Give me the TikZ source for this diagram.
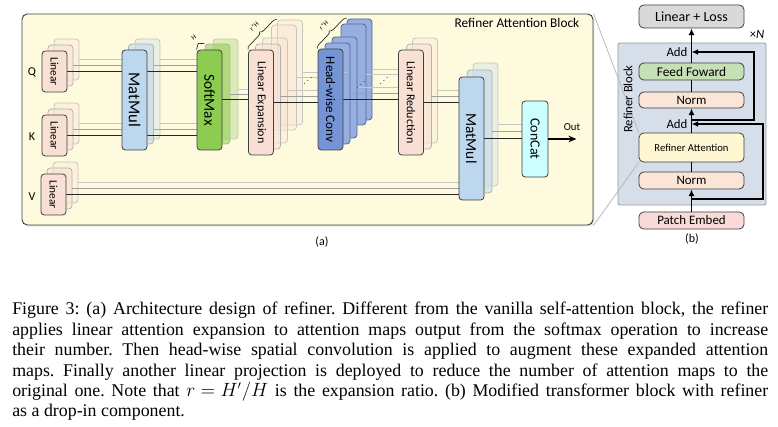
\documentclass[tikz,border=0pt]{standalone}
\usepackage{fontspec}
\setmainfont{Carlito}
\newfontfamily\capfont{Liberation Serif}
\usetikzlibrary{arrows.meta,decorations.pathreplacing,shadows}

\definecolor{bgA}{RGB}{254,250,222}
\definecolor{linpink}{RGB}{248,224,212}
\definecolor{mmblue}{RGB}{189,215,238}
\definecolor{smgreen}{RGB}{140,204,80}
\definecolor{hcblue}{RGB}{116,148,214}
\definecolor{cccyan}{RGB}{204,255,255}
\definecolor{bgB}{RGB}{214,222,234}
\definecolor{llgray}{RGB}{217,217,217}
\definecolor{ffgreen}{RGB}{197,224,180}
\definecolor{normpink}{RGB}{251,229,214}
\definecolor{rayellow}{RGB}{255,246,210}
\definecolor{pepink}{RGB}{249,218,216}

\pgfdeclarelayer{back}
\pgfdeclarelayer{mid}
\pgfsetlayers{back,mid,main}

\newcommand{\vtxt}[1]{\rotatebox{-90}{#1}}
\newcommand{\fsz}[1]{\fontsize{#1}{#1}\selectfont}

\tikzset{
  blk/.style={draw=black!75, line width=0.6pt, rounded corners=2.5pt, inner sep=0pt, minimum width=18.75pt},
  ghostnear/.style={draw=gray!60, fill opacity=0.55},
  ghostfar/.style={draw=gray!45, fill opacity=0.3},
  linbox/.style={blk, fill=linpink, minimum height=30.75pt, font=\fsz{8.5}},
  mmabox/.style={blk, fill=mmblue, minimum height=75pt, font=\fsz{12.5}},
  smbox/.style={blk, fill=smgreen, minimum height=75pt, font=\fsz{11.5}},
  lebox/.style={blk, fill=linpink, minimum height=78.75pt, font=\fsz{9}},
  hcbox/.style={blk, fill=hcblue, minimum height=75.75pt, font=\fsz{9.8}},
  hcback/.style={draw=hcblue!70!black, fill=hcblue!75},
  lrbox/.style={blk, fill=linpink, minimum height=78.75pt, font=\fsz{9}},
  mmbbox/.style={blk, fill=mmblue, minimum height=92.25pt, font=\fsz{11.5}},
  wire/.style={line width=0.75pt, black!85},
  wireb/.style={line width=0.6pt, gray!75},
  wirec/.style={line width=0.6pt, gray!45},
  brc/.style={decorate, decoration={brace, amplitude=3pt}, line width=0.4pt},
  dotsn/.style={rotate=45, font=\fsz{6}, inner sep=0pt},
  bbox/.style={draw=black!75, line width=0.6pt, rounded corners=3.5pt, inner sep=0pt, minimum width=78.75pt},
  arr/.style={line width=1pt, -{Latex[length=5pt,width=4.5pt]}},
  trunk/.style={line width=1pt}
}

\begin{document}
\begin{tikzpicture}[x=0.75pt,y=-0.75pt]
\useasboundingbox (0,0) rectangle (778,427);

% (a) refiner attention block
\begin{pgfonlayer}{back}
\node[draw=black!75, line width=0.7pt, fill=bgA, rounded corners=4pt, minimum width=428.25pt, minimum height=158.25pt, drop shadow={opacity=0.25, shadow xshift=1pt, shadow yshift=-1pt}] (blka) at (307.5,119.5) {};
\node[linbox, ghostfar] (lq3) at (66.5,59.5) {};
\node[linbox, ghostnear] (lq2) at (60.5,65.5) {};
\node[linbox, ghostfar] (lk3) at (66.5,123.5) {};
\node[linbox, ghostnear] (lk2) at (60.5,129.5) {};
\node[linbox, ghostfar] (lv3) at (65.5,182.5) {};
\node[linbox, ghostnear] (lv2) at (59.5,188.5) {};
\node[mmabox, ghostfar] (ma3) at (147.5,89) {};
\node[mmabox, ghostnear] (ma2) at (141,94) {};
\node[smbox, ghostfar] (sm3) at (225.5,89) {};
\node[smbox, ghostnear] (sm2) at (217.5,94) {};
\node[lebox, ghostfar] (le5) at (290,72.5) {};
\node[lebox, ghostfar] (le4) at (284,77.5) {};
\node[lebox, ghostfar] (le3) at (275,90.5) {};
\node[lebox, ghostnear] (le2) at (268,96.5) {};
\node[hcbox, hcback] (hc5) at (359.5,69.5) {};
\node[hcbox, hcback] (hc4) at (353.5,74.5) {};
\node[hcbox, hcback] (hc3) at (344.5,87.5) {};
\node[hcbox, hcback] (hc2) at (337.5,93.5) {};
\node[lrbox, ghostfar] (lr3) at (425,90.5) {};
\node[lrbox, ghostnear] (lr2) at (419,96.5) {};
\node[mmbbox, ghostfar] (mb3) at (485.5,124.5) {};
\node[mmbbox, ghostnear] (mb2) at (479.5,131.5) {};
\end{pgfonlayer}

\node[linbox] (lq1) at (54.5,71.5) {\vtxt{Linear}};
\node[linbox] (lk1) at (54.5,135.5) {\vtxt{Linear}};
\node[linbox] (lv1) at (53.5,194.5) {\vtxt{Linear}};
\node[mmabox] (ma1) at (134.5,100) {\vtxt{MatMul}};
\node[smbox] (sm1) at (209.5,100) {\vtxt{SoftMax}};
\node[lebox] (le1) at (261,102.5) {\vtxt{Linear Expansion}};
\node[hcbox] (hc1) at (330.5,99.5) {\vtxt{Head-wise Conv}};
\node[lrbox] (lr1) at (411,102.5) {\vtxt{Linear Reduction}};
\node[mmbbox] (mb1) at (471.5,138.5) {\vtxt{MatMul}};
\node[blk, fill=cccyan, minimum width=19.5pt, minimum height=57pt, font=\fsz{10.5}] (cc) at (535,139) {\vtxt{ConCat}};

\node[font=\fsz{9}] (tq) at (32,72) {Q};
\node[font=\fsz{9}] (tk) at (32,137) {K};
\node[font=\fsz{9}] (tv) at (32,197) {V};
\node[anchor=east, font=\fsz{10}] (rabl) at (584,23) {Refiner Attention Block};
\node[font=\fsz{8}] (outl) at (572,127) {Out};
\node[font=\fsz{9}] (capa) at (322,242) {(a)};

\begin{pgfonlayer}{mid}
\draw[wire] (lq1.east) -- (lq1.east -| ma1.west) (lk1.east) -- (lk1.east -| ma1.west);
\draw[wireb] (lq2.east) -- (lq2.east -| ma2.west) (lk2.east) -- (lk2.east -| ma2.west);
\draw[wirec] (lq3.east) -- (lq3.east -| ma3.west) (lk3.east) -- (lk3.east -| ma3.west);
\draw[wire] (ma1.east |- lq1) -- (sm1.west |- lq1) (ma1.east |- lk1) -- (sm1.west |- lk1);
\draw[wireb] (ma2.east |- lq2) -- (sm2.west |- lq2) (ma2.east |- lk2) -- (sm2.west |- lk2);
\draw[wirec] (ma3.east |- lq3) -- (sm3.west |- lq3) (ma3.east |- lk3) -- (sm3.west |- lk3);
\draw[wire] (sm1.east) -- (sm1.east -| le1.west);
\draw[wireb] (sm2.east) -- (sm2.east -| le2.west);
\draw[wirec] (sm3.east) -- (sm3.east -| le3.west);
\draw[wire] (le1.east) -- (le1.east -| hc1.west);
\draw[wireb] (le2.east) -- (le2.east -| hc2.west);
\draw[wirec] (le3.east) -- (le3.east -| hc3.west) (le4.east) -- (le4.east -| hc4.west) (le5.east) -- (le5.east -| hc5.west);
\draw[wire] (hc1.east) -- (hc1.east -| lr1.west);
\draw[wireb] (hc2.east) -- (hc2.east -| lr2.west);
\draw[wirec] (hc3.east) -- (hc3.east -| lr3.west) (hc4.east) -- (hc4.east -| lr2.west) (hc5.east) -- (hc5.east -| lr2.west);
\draw[wire] (lr1.east) -- (lr1.east -| mb1.west);
\draw[wireb] (lr2.east) -- (lr2.east -| mb2.west);
\draw[wirec] (lr3.east) -- (lr3.east -| mb3.west);
\draw[wire] (lv1.east) -- (lv1.east -| mb1.west);
\draw[wireb] (lv2.east) -- (lv2.east -| mb2.west);
\draw[wirec] (lv3.east) -- (lv3.east -| mb3.west);
\draw[wire] (mb1.east) -- (mb1.east -| cc.west);
\draw[wireb] (mb2.east) -- (mb2.east -| cc.west);
\draw[wirec] (mb3.east) -- (mb3.east -| cc.west);
\end{pgfonlayer}

\draw[line width=1.4pt, -{Stealth[length=6pt,width=5pt]}] (cc.east) -- ++(28,0) coordinate (outp);

\draw[brc] (sm1.north west) -- (sm2.north west) node[midway, sloped, above=3.5pt, font=\fsz{5}] (bh) {H};
\draw[brc] (le1.north west) -- (le5.north west) node[midway, sloped, above=3.5pt, font=\fsz{5}] (brh) {r*H};
\draw[brc] (hc1.north west) -- (hc5.north west) node[midway, sloped, above=3.5pt, font=\fsz{5}] (bhh) {r*H};

\node[dotsn] (dt1) at (308,81) {$\cdots$};
\node[dotsn] (dt2) at (361,85) {$\cdots$};
\node[dotsn] (dt3) at (384,81) {$\cdots$};

% (b) transformer block with refiner
\node[draw=gray!80, line width=0.6pt, fill=bgB, rounded corners=1.5pt, minimum width=111pt, minimum height=121.5pt] (rb) at (692,124) {};
\draw[gray!55, line width=0.6pt] (blka.north east) -- (639,133) coordinate (rat);
\draw[gray!55, line width=0.6pt] (blka.south east) -- (639,162) coordinate (rab);

\node[bbox, fill=llgray, minimum height=17.25pt, font=\fsz{10.5}] (ll) at (691.5,16.5) {Linear + Loss};
\node[bbox, fill=ffgreen, minimum height=12.75pt, font=\fsz{10}] (ff) at (691.5,71.5) {Feed Foward};
\node[bbox, fill=normpink, minimum height=12pt, font=\fsz{9.7}] (nup) at (691.5,100) {Norm};
\node[bbox, fill=rayellow, minimum height=21.75pt, font=\fsz{8}] (ra) at (691.5,147.5) {Refiner Attention};
\node[bbox, fill=normpink, minimum height=12.75pt, font=\fsz{9.7}] (nlo) at (691.5,180.5) {Norm};
\node[bbox, fill=pepink, minimum height=12.75pt, font=\fsz{9.7}] (pe) at (691.5,220.5) {Patch Embed};

\node[font=\fsz{9.6}] (addu) at (677,52) {Add};
\node[font=\fsz{9.6}] (addl) at (677,124) {Add};
\node[rotate=90, font=\fsz{9.5}] (rbl) at (628,99) {Refiner Block};
\node[font=\fsz{9.5}] (xn) at (757,34) {×\textit{N}};
\node[font=\fsz{9}] (capb) at (692,239) {(b)};

\draw[arr] (pe) -- (nlo);
\draw[trunk] (nlo) -- (ra);
\draw[arr] (ra) -- (nup);
\draw[trunk] (nup) -- (ff);
\draw[arr] (ff) -- (ll);
\coordinate (rs1) at (691.5,199);
\coordinate (rs2) at (691.5,120);
\draw[arr] (rs1) -- ++(71.5,0) |- (ra.north |- addl);
\draw[arr] (rs2) -- ++(62.5,0) |- (ff.north |- addu);

% caption
\node[anchor=north west, inner sep=0pt, align=left, font=\capfont\frenchspacing\fontsize{13.4}{15.3}\selectfont] (cap) at (12,302) {%
\makebox[567pt][s]{Figure 3: (a) Architecture design of refiner. Different from the vanilla self-attention block, the refiner}\\
\makebox[567pt][s]{applies linear attention expansion to attention maps output from the softmax operation to increase}\\
\makebox[567pt][s]{their number. Then head-wise spatial convolution is applied to augment these expanded attention}\\
\makebox[567pt][s]{maps. Finally another linear projection is deployed to reduce the number of attention maps to the}\\
\makebox[567pt][s]{original one. Note that \mbox{$r = H'/H$} is the expansion ratio. (b) Modified transformer block with refiner}\\
as a drop-in component.};
\end{tikzpicture}
\end{document}
